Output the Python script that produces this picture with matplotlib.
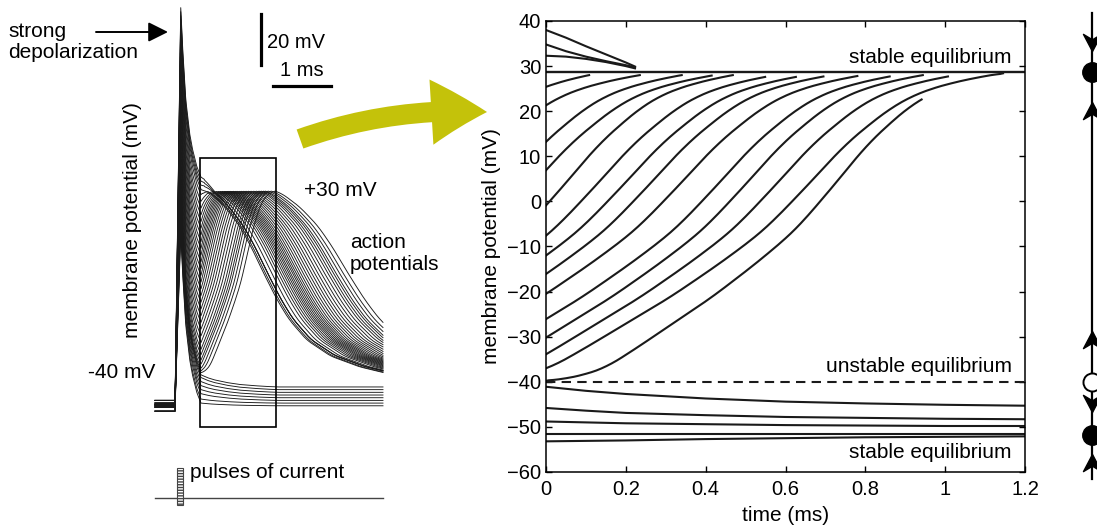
import numpy as np
import matplotlib
matplotlib.use('Agg')
import matplotlib.pyplot as plt
from matplotlib.patches import Rectangle, FancyArrowPatch
from matplotlib.path import Path

plt.rcParams['font.family'] = ['Liberation Sans', 'DejaVu Sans']

W, H = 1097, 531
ink = '#1a1a1a'

# ---- middle panel data (mV vs ms) ----
# slowest rising trajectory
master_t = [0, 0.05, 0.098, 0.152, 0.219, 0.319, 0.419, 0.519, 0.561, 0.611, 0.645,
            0.728, 0.812, 0.879, 0.92, 0.96, 1.0, 1.05, 1.1, 1.14, 1.17]
master_v = [-39.8, -39.3, -38.4, -36.8, -33.1, -27.2, -21.3, -14.6, -11.6, -7.9, -5.0,
            3.5, 12.5, 18.0, 21.0, 23.2, 24.8, 26.2, 27.3, 28.0, 28.5]

# rising curves: start value, end time, end value
rise_start = [25.4, 21.3, 13.2, 6.9, -0.9, -7.6, -12.0, -16.1, -20.5, -26.1, -30.2, -33.9, -37.0, -39.8]
rise_end_t = [0.108, 0.235, 0.340, 0.415, 0.468, 0.549, 0.626, 0.695, 0.780, 0.861, 0.944, 1.007, 1.145, 0.941]
rise_end_v = [28.0, 28.0, 28.0, 27.9, 28.0, 27.6, 27.6, 27.7, 27.8, 27.7, 28.0, 27.7, 28.4, 22.6]

# curves above the upper equilibrium
up_t = [0, 0.05, 0.1, 0.15, 0.2, 0.223]
up_v1 = [38.0, 36.3, 34.4, 32.6, 30.8, 29.9]
up_v2 = [34.8, 33.3, 32.1, 31.1, 30.2, 29.7]
up_v3 = [32.3, 32.1, 31.6, 30.9, 30.0, 29.5]

# curves below the unstable equilibrium
low_t = [0, 0.1, 0.2, 0.4, 0.6, 0.8, 1.0, 1.2]
low_v1 = [-41.1, -42.0, -42.7, -43.7, -44.4, -44.8, -45.1, -45.3]
low_v2 = [-45.8, -46.4, -46.9, -47.4, -47.8, -48.0, -48.2, -48.3]
low_v3 = [-48.8, -49.0, -49.2, -49.4, -49.6, -49.7, -49.8, -49.8]
low_v4 = [-51.5, -51.5, -51.5, -51.5, -51.5, -51.5, -51.5, -51.5]
low_v5 = [-53.2, -53.1, -53.0, -52.7, -52.5, -52.3, -52.2, -52.1]

stable_hi = 28.7
unstable = -40
x_ticks = [0, 0.2, 0.4, 0.6, 0.8, 1.0, 1.2]
x_tick_labels = ['0', '0.2', '0.4', '0.6', '0.8', '1', '1.2']
y_ticks = [-60, -50, -40, -30, -20, -10, 0, 10, 20, 30, 40]

# ---- left panel data (same units, box = 0..1.2 ms, -60..40 mV) ----
left_supra = [33.0, 31.5, 30.0, 28.5, 26.5, 24.0, 21.5, 19.0, 16.5, 14.0, 11.5, 9.0,
              6.5, 4.0, 1.5, -1.0, -3.5, -6.0, -8.5, -11.0, -13.5, -16.0, -18.5, -21.0,
              -23.5, -26.0, -28.5, -31.0, -33.0, -35.0, -36.5, -38.0, -39.0, -39.7]
left_sub = [-40.5, -41.5, -43.0, -44.5, -46.0, -47.5, -49.5, -51.0]
left_sub_end = [-45.0, -46.0, -47.0, -48.0, -49.0, -50.0, -51.0, -52.0]
rest_levels = [-50.0, -51.5, -52.0, -52.5, -54.0, -51.0]
# fall of the strong spike (normalised), action potential fall (mV below plateau)
spike_s = [0, 0.1, 0.25, 0.45, 0.59, 0.8, 1.0]
spike_g = [1, 0.75, 0.455, 0.25, 0.16, 0.06, 0]
ap_t = [0, 0.2, 0.5, 0.8, 1.04, 1.3, 1.58, 1.83, 2.2, 2.7, 3.3, 4.0]
ap_v = [0, -1.5, -6.5, -13.5, -21.2, -31, -40.9, -48.3, -56, -62, -66, -69]
up_norm = [1, 0.82, 0.62, 0.42, 0.23, 0.1, 0.03, 0]
up_norm_t = [0, 0.05, 0.1, 0.15, 0.2, 0.3, 0.4, 0.6]
sub_norm = [0, 0.23, 0.40, 0.63, 0.79, 0.88, 0.95, 1.0]


def fxy(x, y):
    return x / W, 1 - y / H


def smooth(v, n):
    # running mean, only to round off the corners between read points
    pad = np.concatenate([[v[0]] * (n // 2), v, [v[-1]] * (n // 2)])
    return np.convolve(pad, np.ones(n) / n, mode='valid')


# finer, rounded copy of the read trajectory
m_t = np.arange(0, 1.1701, 0.005)
m_v = smooth(np.interp(m_t, master_t, master_v), 15)
m_v[0], m_v[-1] = master_v[0], master_v[-1]
ap_tf = np.arange(0, 4.0001, 0.01)
ap_vf = smooth(np.interp(ap_tf, ap_t, ap_v), 21)
ap_vf[0] = 0

fig = plt.figure(figsize=(W / 100, H / 100), dpi=100)

# ================= left panel =================
axL = fig.add_axes([150 / W, 0, 240 / W, 1])
axL.set_xlim(-0.8057, 2.9858)
axL.set_ylim(-98.55, 98.85)
axL.axis('off')

t_end = 2.875
t_pre = np.array([-0.727, -0.41])
t_spk = np.linspace(-0.32, 0, 30)
t_post = np.linspace(0, t_end, 400)
e27 = np.interp(27.0, m_v, m_t)


def pre_part(v0, r):
    p = min(96.0, v0 + 63.0)
    g = np.interp((t_spk + 0.32) / 0.32, spike_s, spike_g)
    tt = np.concatenate([t_pre, t_spk])
    vv = np.concatenate([[r, r], v0 + (p - v0) * g])
    return tt, vv


for i, v0 in enumerate(left_supra):
    r = rest_levels[i % len(rest_levels)]
    if v0 >= stable_hi:
        rise = stable_hi + (v0 - stable_hi) * np.interp(t_post, up_norm_t, up_norm)
        t_on = 0.05
    else:
        s = np.interp(v0, m_v, m_t)
        rise = np.interp(s + t_post, m_t, m_v)
        t_on = max(e27 - s, 0.0)
    rate = 1.32 - 0.27 * min(t_on, 1.1) / 1.1
    fall = np.interp(rate * (t_post - t_on), ap_tf, ap_vf)
    tt, vv = pre_part(v0, r)
    axL.plot(np.concatenate([tt, t_post]), np.concatenate([vv, rise + fall]),
             color=ink, lw=0.65)

for i, (v0, v1) in enumerate(zip(left_sub, left_sub_end)):
    r = rest_levels[(i + 2) % len(rest_levels)]
    sub = v0 + (v1 - v0) * np.interp(t_post, low_t, sub_norm)
    tt, vv = pre_part(v0, r)
    axL.plot(np.concatenate([tt, t_post]), np.concatenate([vv, sub]), color=ink, lw=0.65)

axL.add_patch(Rectangle((-0.01, -60), 1.2, 100, fill=False, lw=1.2, ec='k', zorder=5))

# pulses of current
axL.plot([-0.727, t_end], [-86.3, -86.3], color='#444444', lw=1.0)
axL.add_patch(Rectangle((-0.379, -88.9), 0.095, 13.8, fc='white', ec='#444444',
                        lw=0.8, hatch='------', zorder=5))

fig.text(*fxy(8, 42), 'strong\ndepolarization', fontsize=15, ha='left', va='center',
         linespacing=1.15)
fig.add_artist(FancyArrowPatch(fxy(96, 32), fxy(168, 32), transform=fig.transFigure,
                               arrowstyle='-|>,head_length=0.4,head_width=0.2',
                               mutation_scale=30, lw=1.4, color='k',
                               shrinkA=0, shrinkB=0))
fig.add_artist(plt.Line2D([260.5 / W] * 2, [1 - 14 / H, 1 - 65 / H], lw=2.3, color='k'))
fig.add_artist(plt.Line2D([273 / W, 331 / W], [1 - 86 / H] * 2, lw=2.3, color='k'))
fig.text(*fxy(267, 42), '20 mV', fontsize=14.5, ha='left', va='center')
fig.text(*fxy(302, 70), '1 ms', fontsize=14.5, ha='center', va='center')
fig.text(*fxy(304, 190), '+30 mV', fontsize=15, ha='left', va='center')
fig.text(*fxy(350, 253), 'action\npotentials', fontsize=15, ha='left', va='center',
         linespacing=1.2)
fig.text(*fxy(155, 372), '-40 mV', fontsize=15, ha='right', va='center')
fig.text(*fxy(133, 220), 'membrane potential (mV)', fontsize=15, ha='center',
         va='center', rotation=90)
fig.text(*fxy(190, 473), 'pulses of current', fontsize=15, ha='left', va='center')

# yellow arrow
fig.add_artist(FancyArrowPatch(fxy(300, 139), fxy(487, 112), transform=fig.transFigure,
                               connectionstyle='arc3,rad=-0.1',
                               arrowstyle='simple,tail_width=1.45,head_width=4.7,head_length=4.0',
                               mutation_scale=10, color='#c4c20a', lw=0,
                               shrinkA=0, shrinkB=0))

# ================= middle panel =================
axM = fig.add_axes([546 / W, 1 - 472 / H, 479 / W, 451 / H])
for v in [up_v1, up_v2, up_v3]:
    axM.plot(up_t, v, color=ink, lw=1.5)
axM.plot([0, 1.2], [stable_hi, stable_hi], color=ink, lw=1.7)
for v0, te, ve in zip(rise_start, rise_end_t, rise_end_v):
    s = np.interp(v0, m_v, m_t)
    e = np.interp(ve, m_v, m_t)
    k = (e - s) / te
    tt = np.linspace(0, te, 150)
    axM.plot(tt, np.interp(s + k * tt, m_t, m_v), color=ink, lw=1.5)
axM.plot([0, 1.2], [unstable, unstable], color=ink, lw=1.5, ls=(0, (4.5, 3)))
for v in [low_v1, low_v2, low_v3, low_v4, low_v5]:
    axM.plot(low_t, v, color=ink, lw=1.5)

axM.text(1.167, 31.9, 'stable equilibrium', fontsize=15, ha='right', va='center')
axM.text(1.167, -36.6, 'unstable equilibrium', fontsize=15, ha='right', va='center')
axM.text(1.167, -55.7, 'stable equilibrium', fontsize=15, ha='right', va='center')

axM.set_xlim(0, 1.2)
axM.set_ylim(-60, 40)
axM.set_xticks(x_ticks)
axM.set_xticklabels(x_tick_labels)
axM.set_yticks(y_ticks)
axM.tick_params(direction='in', top=True, right=True, length=4, width=1,
                labelsize=14.5, colors='k')
axM.tick_params(axis='x', pad=6)
for sp in axM.spines.values():
    sp.set_linewidth(1.1)
axM.set_xlabel('time (ms)', fontsize=15, labelpad=5)
axM.set_ylabel('membrane potential (mV)', fontsize=15, labelpad=4)

# ================= phase line =================
axP = fig.add_axes([1070 / W, 1 - 472 / H, 27 / W, 451 / H])
axP.set_xlim(0, 1)
axP.set_ylim(-60, 40)
axP.axis('off')
xp = 0.815
axP.plot([xp, xp], [41.8, -61.6], color='k', lw=1.6, clip_on=False)
up_arrow = Path([(0, 0.5), (-0.5, -0.45), (0, -0.15), (0.5, -0.45), (0, 0.5)],
                [Path.MOVETO, Path.LINETO, Path.LINETO, Path.LINETO, Path.CLOSEPOLY])
down_arrow = Path([(0, -0.5), (-0.5, 0.45), (0, 0.15), (0.5, 0.45), (0, -0.5)],
                  [Path.MOVETO, Path.LINETO, Path.LINETO, Path.LINETO, Path.CLOSEPOLY])
arrows_up = [20.0, -30.8, -57.9]
arrows_down = [35.4, -44.8]
stable_pts = [stable_hi, -51.7]
unstable_pts = [unstable]
axP.plot([xp] * len(arrows_up), arrows_up, ls='none', marker=up_arrow, ms=13,
         color='k', clip_on=False)
axP.plot([xp] * len(arrows_down), arrows_down, ls='none', marker=down_arrow, ms=13,
         color='k', clip_on=False)
axP.plot([xp] * len(stable_pts), stable_pts, ls='none', marker='o', ms=14,
         color='k', clip_on=False)
axP.plot([xp] * len(unstable_pts), unstable_pts, ls='none', marker='o', ms=13,
         mfc='white', mec='k', mew=1.4, clip_on=False)

fig.savefig('out.png', dpi=100)
